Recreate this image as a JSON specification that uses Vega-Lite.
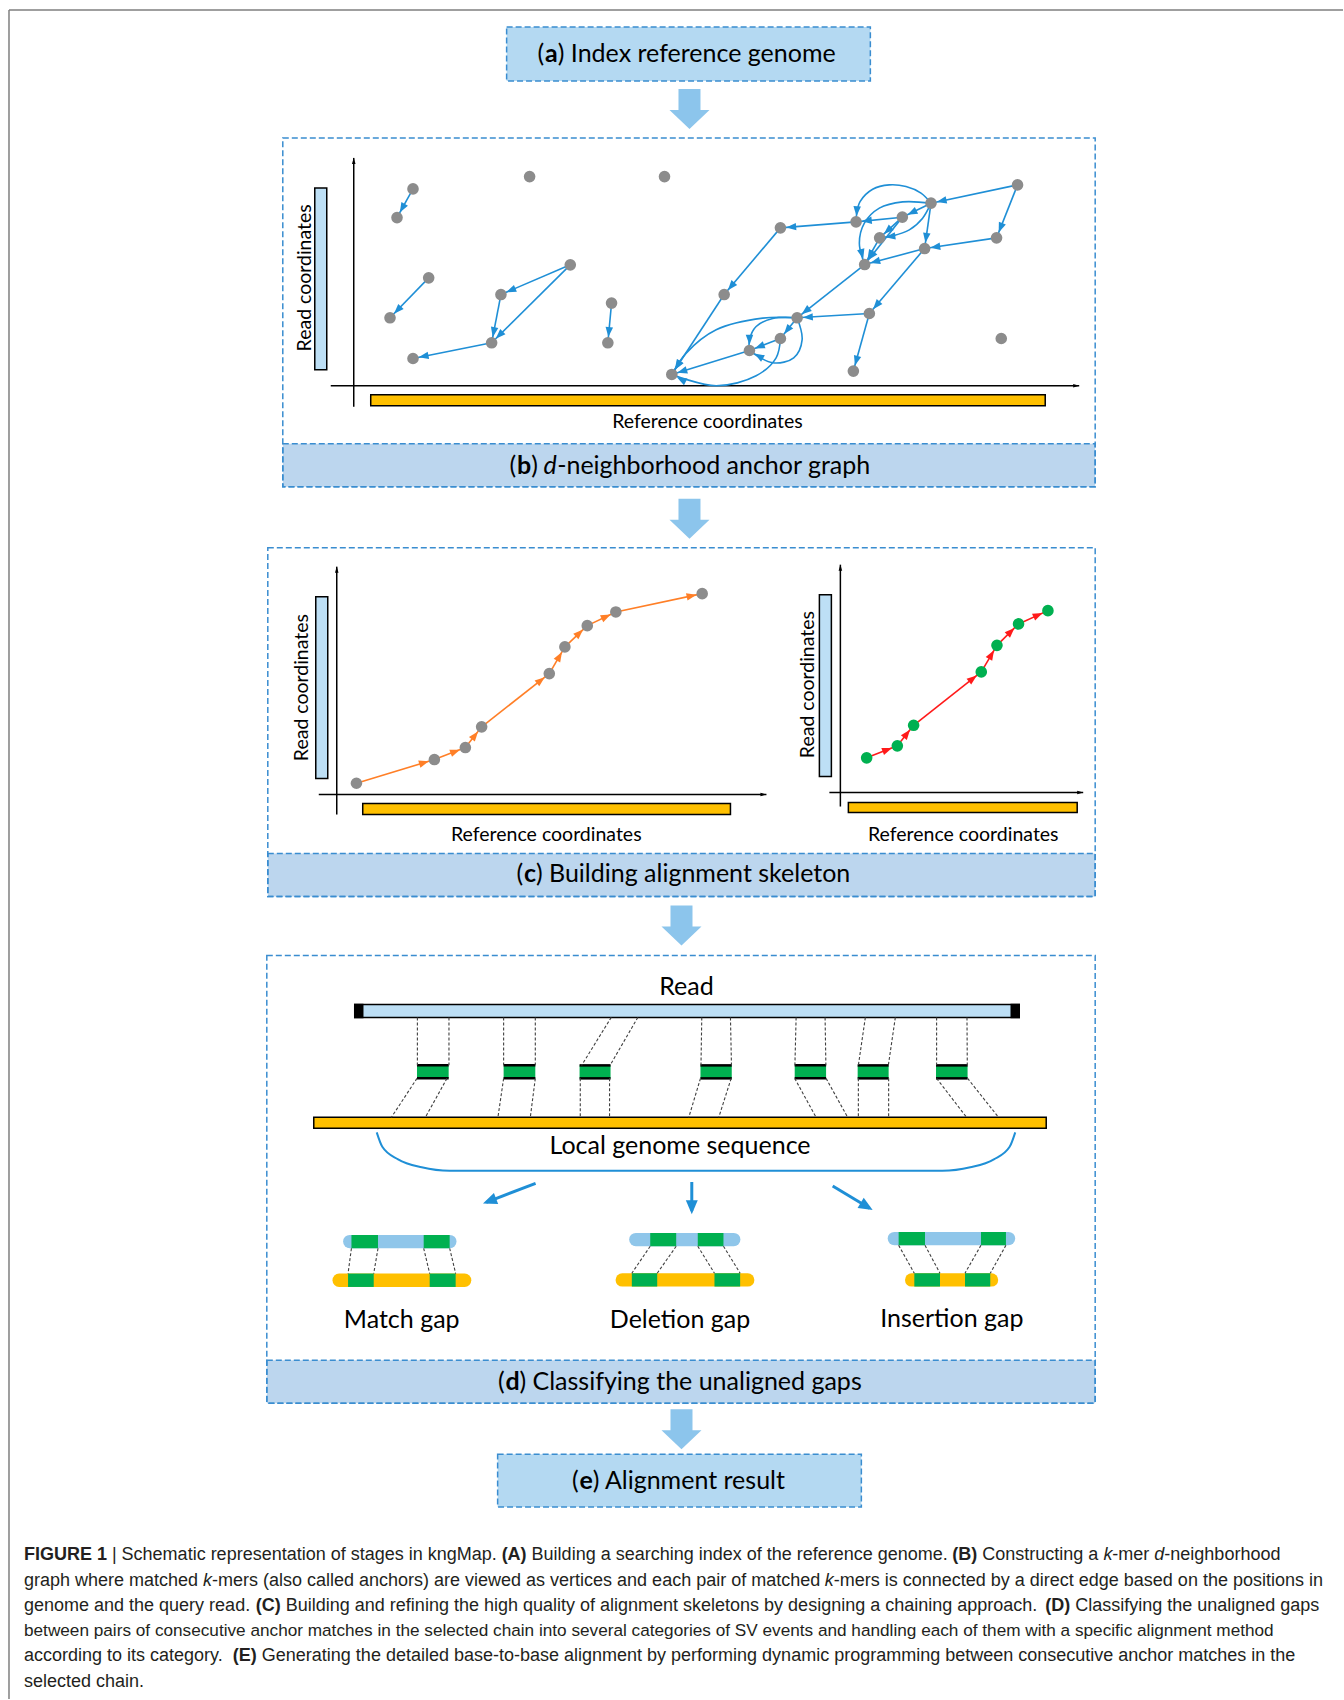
{
"$schema": "https://vega.github.io/schema/vega-lite/v6.json",
"width": 1344, "height": 1700,
"autosize": {"type": "fit", "contains": "padding"},
"padding": 0,
"background": "#ffffff",
"config": {"view": {"stroke": null}},
"datasets": {
"frame": [{"x":9,"y":10,"x2":1344,"y2":10},{"x":9,"y":10,"x2":9,"y2":1700}],
"boxesAE": [{"x":507,"x2":871,"y":27,"y2":81},{"x":498,"x2":862,"y":1455,"y2":1508}],
"panels": [{"x":283,"x2":1096,"y":138,"y2":487},{"x":268,"x2":1096,"y":548,"y2":897},{"x":267,"x2":1096,"y":956,"y2":1404}],
"bands": [{"x":283,"x2":1096,"y":444,"y2":487},{"x":268,"x2":1096,"y":854,"y2":897},{"x":267,"x2":1096,"y":1361,"y2":1404}],
"bigarrows": [{"x":690,"y":109},{"x":690,"y":519},{"x":682,"y":926},{"x":682,"y":1430}],
"axes": [{"x":354,"y":407,"x2":354,"y2":158},{"x":331,"y":386,"x2":1080,"y2":386},{"x":337,"y":815,"x2":337,"y2":567},{"x":319,"y":795,"x2":767,"y2":795},{"x":841,"y":807,"x2":841,"y2":565},{"x":830,"y":793,"x2":1084,"y2":793}],
"bars": [{"x":315,"x2":327,"y":188,"y2":370,"k":"read"},{"x":371,"x2":1046,"y":395,"y2":406,"k":"ref"},{"x":316,"x2":328,"y":597,"y2":779,"k":"read"},{"x":363,"x2":731,"y":804,"y2":815,"k":"ref"},{"x":820,"x2":832,"y":595,"y2":777,"k":"read"},{"x":849,"x2":1078,"y":803,"y2":813,"k":"ref"},{"x":355,"x2":1020,"y":1005,"y2":1018,"k":"read"},{"x":314,"x2":1047,"y":1118,"y2":1129,"k":"ref"},{"x":355,"x2":363,"y":1005,"y2":1018,"k":"cap"},{"x":1012,"x2":1020,"y":1005,"y2":1018,"k":"cap"}],
"curves": [
{"e":"c1","o":1,"x":931.7,"y":203.3},{"e":"c1","o":2,"x":921.7,"y":193.3},{"e":"c1","o":3,"x":906.7,"y":186.7},{"e":"c1","o":4,"x":890,"y":185},{"e":"c1","o":5,"x":873.3,"y":189.3},{"e":"c1","o":6,"x":860.7,"y":201.7},{"e":"c1","o":7,"x":857.3,"y":214},{"e":"c1","o":8,"x":856.7,"y":222},
{"e":"c2","o":1,"x":931.7,"y":203.3},{"e":"c2","o":2,"x":903.3,"y":202},{"e":"c2","o":3,"x":880,"y":208.3},{"e":"c2","o":4,"x":865,"y":223.3},{"e":"c2","o":5,"x":860,"y":243.3},{"e":"c2","o":6,"x":865.3,"y":264.7},
{"e":"c3","o":1,"x":931.7,"y":203.3},{"e":"c3","o":2,"x":923.3,"y":218.3},{"e":"c3","o":3,"x":910,"y":230},{"e":"c3","o":4,"x":893.3,"y":236},{"e":"c3","o":5,"x":880.3,"y":238},
{"e":"c4","o":1,"x":797.7,"y":318},{"e":"c4","o":2,"x":763.3,"y":318.3},{"e":"c4","o":3,"x":716.7,"y":330},{"e":"c4","o":4,"x":686.7,"y":353.3},{"e":"c4","o":5,"x":672.3,"y":374.7},
{"e":"c5","o":1,"x":797.7,"y":318},{"e":"c5","o":2,"x":773.3,"y":318.7},{"e":"c5","o":3,"x":756.7,"y":326.7},{"e":"c5","o":4,"x":750,"y":340},{"e":"c5","o":5,"x":750,"y":350.7},
{"e":"c6","o":1,"x":781,"y":338.7},{"e":"c6","o":2,"x":776.7,"y":358},{"e":"c6","o":3,"x":756.7,"y":376},{"e":"c6","o":4,"x":716.7,"y":386},{"e":"c6","o":5,"x":672.3,"y":374.7},
{"e":"c7","o":1,"x":797.7,"y":318},{"e":"c7","o":2,"x":802.7,"y":340},{"e":"c7","o":3,"x":794.3,"y":358},{"e":"c7","o":4,"x":773.3,"y":363},{"e":"c7","o":5,"x":750,"y":350.7}
],
"edges": [
{"x":413.3,"y":189,"x2":397.3,"y2":217.7,"k":"b"},
{"x":429,"y":278,"x2":390.3,"y2":318,"k":"b"},
{"x":570.7,"y":265,"x2":501.3,"y2":294.7,"k":"b"},
{"x":570.7,"y":265,"x2":492,"y2":343,"k":"b"},
{"x":501.3,"y":294.7,"x2":492,"y2":343,"k":"b"},
{"x":492,"y":343,"x2":413.3,"y2":358.7,"k":"b"},
{"x":612,"y":303.3,"x2":608.3,"y2":343,"k":"b"},
{"x":1018.3,"y":185,"x2":931.7,"y2":203.3,"k":"b"},
{"x":1018.3,"y":185,"x2":997.3,"y2":238,"k":"b"},
{"x":997.3,"y":238,"x2":925.3,"y2":248.7,"k":"b"},
{"x":931.7,"y":203.3,"x2":903,"y2":217.3,"k":"b"},
{"x":931.7,"y":203.3,"x2":925.3,"y2":248.7,"k":"b"},
{"x":903,"y":217.3,"x2":856.7,"y2":222,"k":"b"},
{"x":903,"y":217.3,"x2":880.3,"y2":238,"k":"b"},
{"x":903,"y":217.3,"x2":865.3,"y2":264.7,"k":"b"},
{"x":880.3,"y":238,"x2":865.3,"y2":264.7,"k":"b"},
{"x":856.7,"y":222,"x2":781,"y2":228,"k":"b"},
{"x":925.3,"y":248.7,"x2":865.3,"y2":264.7,"k":"b"},
{"x":925.3,"y":248.7,"x2":870,"y2":313.7,"k":"b"},
{"x":781,"y":228,"x2":724.7,"y2":294.7,"k":"b"},
{"x":724.7,"y":294.7,"x2":672.3,"y2":374.7,"k":"b"},
{"x":865.3,"y":264.7,"x2":797.7,"y2":318,"k":"b"},
{"x":870,"y":313.7,"x2":797.7,"y2":318,"k":"b"},
{"x":870,"y":313.7,"x2":854,"y2":371.3,"k":"b"},
{"x":797.7,"y":318,"x2":781,"y2":338.7,"k":"b"},
{"x":781,"y":338.7,"x2":750,"y2":350.7,"k":"b"},
{"x":750,"y":350.7,"x2":672.3,"y2":374.7,"k":"b"},
{"x":857.5,"y":211,"x2":856.7,"y2":222,"k":"bc"},
{"x":861,"y":248,"x2":865.3,"y2":264.7,"k":"bc"},
{"x":892,"y":236.5,"x2":880.3,"y2":238,"k":"bc"},
{"x":682,"y":359,"x2":672.3,"y2":374.7,"k":"bc"},
{"x":750,"y":340,"x2":750,"y2":350.7,"k":"bc"},
{"x":688,"y":383,"x2":672.3,"y2":374.7,"k":"bc"},
{"x":764,"y":359,"x2":750,"y2":350.7,"k":"bc"},
{"x":356.7,"y":783.7,"x2":434.7,"y2":760,"k":"o"},
{"x":434.7,"y":760,"x2":465.7,"y2":748,"k":"o"},
{"x":465.7,"y":748,"x2":482,"y2":727.3,"k":"o"},
{"x":482,"y":727.3,"x2":549.7,"y2":674,"k":"o"},
{"x":549.7,"y":674,"x2":565.3,"y2":647.3,"k":"o"},
{"x":565.3,"y":647.3,"x2":587.7,"y2":626,"k":"o"},
{"x":587.7,"y":626,"x2":616.3,"y2":612.3,"k":"o"},
{"x":616.3,"y":612.3,"x2":702.7,"y2":594,"k":"o"},
{"x":867.3,"y":758.3,"x2":898,"y2":746.3,"k":"r"},
{"x":898,"y":746.3,"x2":914.3,"y2":725.7,"k":"r"},
{"x":914.3,"y":725.7,"x2":982,"y2":672.3,"k":"r"},
{"x":982,"y":672.3,"x2":997.7,"y2":645.7,"k":"r"},
{"x":997.7,"y":645.7,"x2":1019.3,"y2":624.3,"k":"r"},
{"x":1019.3,"y":624.3,"x2":1048.7,"y2":611,"k":"r"}
],
"dots": [
{"x":413.3,"y":189,"k":"g"},{"x":397.3,"y":217.7,"k":"g"},{"x":530,"y":176.7,"k":"g"},{"x":665,"y":176.7,"k":"g"},{"x":429,"y":278,"k":"g"},{"x":390.3,"y":318,"k":"g"},{"x":570.7,"y":265,"k":"g"},{"x":501.3,"y":294.7,"k":"g"},{"x":492,"y":343,"k":"g"},{"x":413.3,"y":358.7,"k":"g"},{"x":612,"y":303.3,"k":"g"},{"x":608.3,"y":343,"k":"g"},{"x":672.3,"y":374.7,"k":"g"},
{"x":1018.3,"y":185,"k":"g"},{"x":931.7,"y":203.3,"k":"g"},{"x":903,"y":217.3,"k":"g"},{"x":856.7,"y":222,"k":"g"},{"x":781,"y":228,"k":"g"},{"x":880.3,"y":238,"k":"g"},{"x":997.3,"y":238,"k":"g"},{"x":925.3,"y":248.7,"k":"g"},{"x":865.3,"y":264.7,"k":"g"},{"x":724.7,"y":294.7,"k":"g"},{"x":870,"y":313.7,"k":"g"},{"x":797.7,"y":318,"k":"g"},{"x":781,"y":338.7,"k":"g"},{"x":750,"y":350.7,"k":"g"},{"x":1002,"y":338.7,"k":"g"},{"x":854,"y":371.3,"k":"g"},
{"x":356.7,"y":783.7,"k":"g"},{"x":434.7,"y":760,"k":"g"},{"x":465.7,"y":748,"k":"g"},{"x":482,"y":727.3,"k":"g"},{"x":549.7,"y":674,"k":"g"},{"x":565.3,"y":647.3,"k":"g"},{"x":587.7,"y":626,"k":"g"},{"x":616.3,"y":612.3,"k":"g"},{"x":702.7,"y":594,"k":"g"},
{"x":867.3,"y":758.3,"k":"n"},{"x":898,"y":746.3,"k":"n"},{"x":914.3,"y":725.7,"k":"n"},{"x":982,"y":672.3,"k":"n"},{"x":997.7,"y":645.7,"k":"n"},{"x":1019.3,"y":624.3,"k":"n"},{"x":1048.7,"y":611,"k":"n"}
],
"blocks": [{"x":417.3,"x2":449,"y":1066,"y2":1079},{"x":504,"x2":535.7,"y":1066,"y2":1079},{"x":580,"x2":611,"y":1066,"y2":1079},{"x":701,"x2":732.3,"y":1066,"y2":1079},{"x":795.3,"x2":826.7,"y":1066,"y2":1079},{"x":858.3,"x2":889.3,"y":1066,"y2":1079},{"x":936.7,"x2":968.3,"y":1066,"y2":1079}],
"dashes": [
{"x":417.7,"y":1018,"x2":417.7,"y2":1066},{"x":449.3,"y":1018,"x2":449.3,"y2":1066},
{"x":504,"y":1018,"x2":504,"y2":1066},{"x":535.7,"y":1018,"x2":535.7,"y2":1066},
{"x":611.7,"y":1018,"x2":582,"y2":1066},{"x":638.3,"y":1018,"x2":610.5,"y2":1066},
{"x":702.3,"y":1018,"x2":701.5,"y2":1066},{"x":731,"y":1018,"x2":732,"y2":1066},
{"x":796.7,"y":1018,"x2":795.5,"y2":1066},{"x":825.7,"y":1018,"x2":826.5,"y2":1066},
{"x":866,"y":1018,"x2":859,"y2":1066},{"x":896,"y":1018,"x2":889,"y2":1066},
{"x":937.3,"y":1018,"x2":937.3,"y2":1066},{"x":967.7,"y":1018,"x2":968,"y2":1066},
{"x":417.3,"y":1079,"x2":391.7,"y2":1118},{"x":447.3,"y":1079,"x2":425.7,"y2":1118},
{"x":504,"y":1079,"x2":498.3,"y2":1118},{"x":535.7,"y":1079,"x2":530.7,"y2":1118},
{"x":580.7,"y":1079,"x2":580.7,"y2":1118},{"x":610,"y":1079,"x2":610,"y2":1118},
{"x":701,"y":1079,"x2":689.3,"y2":1118},{"x":731.7,"y":1079,"x2":719.3,"y2":1118},
{"x":795.3,"y":1079,"x2":816.7,"y2":1118},{"x":826.7,"y":1079,"x2":848.3,"y2":1118},
{"x":859,"y":1079,"x2":859,"y2":1118},{"x":889.3,"y":1079,"x2":889.3,"y2":1118},
{"x":937.3,"y":1079,"x2":967.3,"y2":1118},{"x":968.3,"y":1079,"x2":999.3,"y2":1118},
{"x":351.7,"y":1249,"x2":348.3,"y2":1274.3},{"x":378.3,"y":1249,"x2":374,"y2":1274.3},{"x":424,"y":1249,"x2":430,"y2":1274.3},{"x":450,"y":1249,"x2":456,"y2":1274.3},
{"x":650.7,"y":1247,"x2":632.3,"y2":1274},{"x":676.7,"y":1247,"x2":657.7,"y2":1274},{"x":698.3,"y":1247,"x2":715,"y2":1274},{"x":724,"y":1247,"x2":740.7,"y2":1274},
{"x":899.3,"y":1246,"x2":915,"y2":1274},{"x":925.7,"y":1246,"x2":940.7,"y2":1274},{"x":981.7,"y":1246,"x2":965.7,"y2":1274},{"x":1006.7,"y":1246,"x2":991,"y2":1274}
],
"brace": [{"x":377,"y":1133},{"x":382.6,"y":1147.5},{"x":398.4,"y":1160},{"x":422,"y":1168},{"x":450,"y":1171.5},{"x":943,"y":1171.5},{"x":971,"y":1168},{"x":994.6,"y":1160},{"x":1010.4,"y":1147.5},{"x":1016,"y":1133}],
"darrows": [{"x":536,"y":1184,"x2":486.6,"y2":1203},{"x":692.3,"y":1182.7,"x2":692.3,"y2":1211.5},{"x":833.3,"y":1186.7,"x2":870.3,"y2":1209}],
"gapbars": [{"x":350,"x2":450.2,"y":1242.3,"k":"gr"},{"x":339.4,"x2":465,"y":1281,"k":"gy"},{"x":636.3,"x2":734.3,"y":1240.3,"k":"gr"},{"x":622.7,"x2":748.3,"y":1280.7,"k":"gy"},{"x":895,"x2":1009.3,"y":1239.3,"k":"gr"},{"x":912.3,"x2":992.3,"y":1280.7,"k":"gy"}],
"gapgreens": [
{"x":351.7,"x2":378.3,"y":1235.7,"y2":1249},{"x":424,"x2":450,"y":1235.7,"y2":1249},{"x":348.3,"x2":374,"y":1274.3,"y2":1287.7},{"x":430,"x2":456,"y":1274.3,"y2":1287.7},
{"x":650.7,"x2":676.7,"y":1233.7,"y2":1247},{"x":698.3,"x2":724,"y":1233.7,"y2":1247},{"x":632.3,"x2":657.7,"y":1274,"y2":1287.3},{"x":715,"x2":740.7,"y":1274,"y2":1287.3},
{"x":899.3,"x2":925.7,"y":1232.7,"y2":1246},{"x":981.7,"x2":1006.7,"y":1232.7,"y2":1246},{"x":915,"x2":940.7,"y":1274,"y2":1287.3},{"x":965.7,"x2":991,"y":1274,"y2":1287.3}
],
"titles": [
{"x":538,"y":54,"t":"(","s":"r"},{"x":545.5,"y":54,"t":"a","s":"b"},{"x":558.2,"y":54,"t":") Index reference genome","s":"r"},
{"x":510,"y":466,"t":"(","s":"r"},{"x":517.5,"y":466,"t":"b","s":"b"},{"x":531.7,"y":466,"t":")","s":"r"},{"x":543.8,"y":466,"t":"d","s":"i"},{"x":557.6,"y":466,"t":"-neighborhood anchor graph","s":"r"},
{"x":517,"y":875,"t":"(","s":"r"},{"x":524.5,"y":875,"t":"c","s":"b"},{"x":536.3,"y":875,"t":") Building alignment skeleton","s":"r"},
{"x":498.3,"y":1383,"t":"(","s":"r"},{"x":505.8,"y":1383,"t":"d","s":"b"},{"x":519.8,"y":1383,"t":") Classifying the unaligned gaps","s":"r"},
{"x":572.4,"y":1482,"t":"(","s":"r"},{"x":579.9,"y":1482,"t":"e","s":"b"},{"x":593.1,"y":1482,"t":") Alignment result","s":"r"}
],
"labels": [{"x":687,"y":988,"t":"Read"},{"x":680.5,"y":1146.5,"t":"Local genome sequence"},{"x":402,"y":1321,"t":"Match gap"},{"x":680.5,"y":1321,"t":"Deletion gap"},{"x":952.5,"y":1320,"t":"Insertion gap"}],
"axlabels": [{"x":708,"y":422,"t":"Reference coordinates","s":"h"},{"x":546.7,"y":835,"t":"Reference coordinates","s":"h"},{"x":964,"y":835,"t":"Reference coordinates","s":"h"},{"x":305,"y":278,"t":"Read coordinates","s":"v"},{"x":302.7,"y":688,"t":"Read coordinates","s":"v"},{"x":808.3,"y":685,"t":"Read coordinates","s":"v"}],
"caption": [
{"x":24,"y":1556,"t":"FIGURE 1","s":"b"},{"x":112,"y":1556,"t":"| Schematic representation of stages in kngMap.","s":"r"},{"x":502,"y":1556,"t":"(A)","s":"b"},{"x":532,"y":1556,"t":"Building a searching index of the reference genome.","s":"r"},{"x":953,"y":1556,"t":"(B)","s":"b"},{"x":983,"y":1556,"t":"Constructing a","s":"r"},{"x":1104.2,"y":1556,"t":"k","s":"i"},{"x":1113.2,"y":1556,"t":"-mer","s":"r"},{"x":1155.2,"y":1556,"t":"d","s":"i"},{"x":1165.2,"y":1556,"t":"-neighborhood","s":"r"},
{"x":24,"y":1581.5,"t":"graph where matched","s":"r"},{"x":203.1,"y":1581.5,"t":"k","s":"i"},{"x":212.1,"y":1581.5,"t":"-mers (also called anchors) are viewed as vertices and each pair of matched","s":"r"},{"x":825.3,"y":1581.5,"t":"k","s":"i"},{"x":834.3,"y":1581.5,"t":"-mers is connected by a direct edge based on the positions in","s":"r"},
{"x":24,"y":1607,"t":"genome and the query read.","s":"r"},{"x":256,"y":1607,"t":"(C)","s":"b"},{"x":286,"y":1607,"t":"Building and refining the high quality of alignment skeletons by designing a chaining approach.","s":"r"},{"x":1046,"y":1607,"t":"(D)","s":"b"},{"x":1076,"y":1607,"t":"Classifying the unaligned gaps","s":"r"},
{"x":24,"y":1632,"t":"between pairs of consecutive anchor matches in the selected chain into several categories of SV events and handling each of them with a specific alignment method","s":"n"},
{"x":24,"y":1657,"t":"according to its category.","s":"r"},{"x":233,"y":1657,"t":"(E)","s":"b"},{"x":262,"y":1657,"t":"Generating the detailed base-to-base alignment by performing dynamic programming between consecutive anchor matches in the","s":"r"},
{"x":24,"y":1683,"t":"selected chain.","s":"r"}
]
},
"encoding": {
"x": {"field": "x", "type": "quantitative", "scale": {"domain": [0, 1344], "nice": false, "zero": false}, "axis": null},
"y": {"field": "y", "type": "quantitative", "scale": {"domain": [0, 1700], "nice": false, "zero": false, "reverse": true}, "axis": null}
},
"layer": [
{"data": {"name": "frame"}, "mark": {"type": "rule", "stroke": "#7f7f7f", "strokeWidth": 1.5}, "encoding": {"x2": {"field": "x2"}, "y2": {"field": "y2"}}},
{"data": {"name": "boxesAE"}, "mark": {"type": "rect", "fill": "#b4d9f2", "stroke": "#3a8dd0", "strokeWidth": 1.5, "strokeDash": [6, 3]}, "encoding": {"x2": {"field": "x2"}, "y2": {"field": "y2"}}},
{"data": {"name": "bands"}, "mark": {"type": "rect", "fill": "#bcd6ee", "stroke": "#3a8dd0", "strokeWidth": 1.5, "strokeDash": [6, 3]}, "encoding": {"x2": {"field": "x2"}, "y2": {"field": "y2"}}},
{"data": {"name": "panels"}, "mark": {"type": "rect", "fill": "#ffffff", "fillOpacity": 0, "stroke": "#3a8dd0", "strokeWidth": 1.5, "strokeDash": [6, 3]}, "encoding": {"x2": {"field": "x2"}, "y2": {"field": "y2"}}},
{"data": {"name": "bigarrows"}, "mark": {"type": "point", "shape": "M-0.55,-1L0.55,-1L0.55,0.05L1,0.05L0,1L-1,0.05L-0.55,0.05Z", "size": 1600, "filled": true, "fill": "#8cc5ec", "opacity": 1, "strokeWidth": 0}},
{"data": {"name": "bars"}, "mark": {"type": "rect", "stroke": "#000000", "strokeWidth": 1.5}, "encoding": {"x2": {"field": "x2"}, "y2": {"field": "y2"}, "color": {"field": "k", "type": "nominal", "scale": {"domain": ["b","bc","o","r","g","n","gr","gy","read","ref","cap"], "range": ["#1f8fd6","#1f8fd6","#ff7f27","#ff1a1a","#8c8c8c","#00b050","#8fc6ea","#ffc000","#bddff5","#ffc000","#000000"]}, "legend": null}}},
{"data": {"name": "axes"}, "mark": {"type": "rule", "stroke": "#000000", "strokeWidth": 1.5}, "encoding": {"x2": {"field": "x2"}, "y2": {"field": "y2"}}},
{"data": {"name": "axes"}, "transform": [{"calculate": "atan2(datum.x2 - datum.x, datum.y - datum.y2) * 180 / PI", "as": "ang"}], "mark": {"type": "point", "shape": "M0,0L0.9,3L-0.9,3Z", "size": 16, "filled": true, "fill": "#000000", "opacity": 1, "strokeWidth": 0},
 "encoding": {"x": {"field": "x2", "type": "quantitative", "scale": {"domain": [0, 1344], "nice": false, "zero": false}, "axis": null}, "y": {"field": "y2", "type": "quantitative", "scale": {"domain": [0, 1700], "nice": false, "zero": false, "reverse": true}, "axis": null}, "angle": {"field": "ang", "type": "quantitative", "scale": null}}},
{"data": {"name": "curves"}, "mark": {"type": "line", "interpolate": "catmull-rom", "stroke": "#1f8fd6", "strokeWidth": 1.6}, "encoding": {"detail": {"field": "e"}, "order": {"field": "o", "type": "quantitative"}}},
{"data": {"name": "edges"}, "transform": [{"filter": "datum.k != 'bc'"}], "mark": {"type": "rule", "strokeWidth": 1.6}, "encoding": {"x2": {"field": "x2"}, "y2": {"field": "y2"}, "color": {"field": "k", "type": "nominal", "scale": {"domain": ["b","bc","o","r","g","n","gr","gy","read","ref","cap"], "range": ["#1f8fd6","#1f8fd6","#ff7f27","#ff1a1a","#8c8c8c","#00b050","#8fc6ea","#ffc000","#bddff5","#ffc000","#000000"]}, "legend": null}}},
{"data": {"name": "dots"}, "mark": {"type": "point", "shape": "circle", "size": 135, "filled": true, "opacity": 1, "strokeWidth": 0}, "encoding": {"color": {"field": "k", "type": "nominal", "scale": {"domain": ["b","bc","o","r","g","n","gr","gy","read","ref","cap"], "range": ["#1f8fd6","#1f8fd6","#ff7f27","#ff1a1a","#8c8c8c","#00b050","#8fc6ea","#ffc000","#bddff5","#ffc000","#000000"]}, "legend": null}}},
{"data": {"name": "edges"}, "transform": [{"calculate": "atan2(datum.x2 - datum.x, datum.y - datum.y2) * 180 / PI", "as": "ang"}], "mark": {"type": "point", "shape": "M0,2.3L1.5,6.3L-1.5,6.3Z", "size": 25, "filled": true, "opacity": 1, "strokeWidth": 0},
 "encoding": {"x": {"field": "x2", "type": "quantitative", "scale": {"domain": [0, 1344], "nice": false, "zero": false}, "axis": null}, "y": {"field": "y2", "type": "quantitative", "scale": {"domain": [0, 1700], "nice": false, "zero": false, "reverse": true}, "axis": null}, "angle": {"field": "ang", "type": "quantitative", "scale": null}, "color": {"field": "k", "type": "nominal", "scale": {"domain": ["b","bc","o","r","g","n","gr","gy","read","ref","cap"], "range": ["#1f8fd6","#1f8fd6","#ff7f27","#ff1a1a","#8c8c8c","#00b050","#8fc6ea","#ffc000","#bddff5","#ffc000","#000000"]}, "legend": null}}},
{"data": {"name": "blocks"}, "mark": {"type": "rect", "fill": "#00b050"}, "encoding": {"x2": {"field": "x2"}, "y2": {"field": "y2"}}},
{"data": {"name": "blocks"}, "mark": {"type": "rule", "stroke": "#000000", "strokeWidth": 2.5}, "encoding": {"x2": {"field": "x2"}}},
{"data": {"name": "blocks"}, "mark": {"type": "rule", "stroke": "#000000", "strokeWidth": 2.5}, "encoding": {"y": {"field": "y2", "type": "quantitative", "scale": {"domain": [0, 1700], "nice": false, "zero": false, "reverse": true}, "axis": null}, "x2": {"field": "x2"}}},
{"data": {"name": "gapbars"}, "mark": {"type": "rule", "strokeWidth": 13.3, "strokeCap": "round"}, "encoding": {"x2": {"field": "x2"}, "color": {"field": "k", "type": "nominal", "scale": {"domain": ["b","bc","o","r","g","n","gr","gy","read","ref","cap"], "range": ["#1f8fd6","#1f8fd6","#ff7f27","#ff1a1a","#8c8c8c","#00b050","#8fc6ea","#ffc000","#bddff5","#ffc000","#000000"]}, "legend": null}}},
{"data": {"name": "gapgreens"}, "mark": {"type": "rect", "fill": "#00b050"}, "encoding": {"x2": {"field": "x2"}, "y2": {"field": "y2"}}},
{"data": {"name": "dashes"}, "mark": {"type": "rule", "stroke": "#404040", "strokeWidth": 1.1, "strokeDash": [3, 2]}, "encoding": {"x2": {"field": "x2"}, "y2": {"field": "y2"}}},
{"data": {"name": "brace"}, "mark": {"type": "line", "interpolate": "monotone", "stroke": "#1f8fd6", "strokeWidth": 2}, "encoding": {}},
{"data": {"name": "darrows"}, "mark": {"type": "rule", "stroke": "#1f8fd6", "strokeWidth": 3}, "encoding": {"x2": {"field": "x2"}, "y2": {"field": "y2"}}},
{"data": {"name": "darrows"}, "transform": [{"calculate": "atan2(datum.x2 - datum.x, datum.y - datum.y2) * 180 / PI", "as": "ang"}], "mark": {"type": "point", "shape": "M0,-1L1.7,3L-1.7,3Z", "size": 49, "filled": true, "fill": "#1f8fd6", "opacity": 1, "strokeWidth": 0},
 "encoding": {"x": {"field": "x2", "type": "quantitative", "scale": {"domain": [0, 1344], "nice": false, "zero": false}, "axis": null}, "y": {"field": "y2", "type": "quantitative", "scale": {"domain": [0, 1700], "nice": false, "zero": false, "reverse": true}, "axis": null}, "angle": {"field": "ang", "type": "quantitative", "scale": null}}},
{"data": {"name": "titles"}, "transform": [{"filter": "datum.s == 'r'"}], "mark": {"type": "text", "font": "Lato", "fontSize": 25, "align": "left", "baseline": "middle", "fill": "#000000"}, "encoding": {"text": {"field": "t", "type": "nominal"}}},
{"data": {"name": "titles"}, "transform": [{"filter": "datum.s == 'b'"}], "mark": {"type": "text", "font": "Lato", "fontSize": 25, "fontWeight": "bold", "align": "left", "baseline": "middle", "fill": "#000000"}, "encoding": {"text": {"field": "t", "type": "nominal"}}},
{"data": {"name": "titles"}, "transform": [{"filter": "datum.s == 'i'"}], "mark": {"type": "text", "font": "Lato", "fontSize": 25, "fontStyle": "italic", "align": "left", "baseline": "middle", "fill": "#000000"}, "encoding": {"text": {"field": "t", "type": "nominal"}}},
{"data": {"name": "labels"}, "mark": {"type": "text", "font": "Lato", "fontSize": 25, "align": "center", "baseline": "middle", "fill": "#000000"}, "encoding": {"text": {"field": "t", "type": "nominal"}}},
{"data": {"name": "axlabels"}, "transform": [{"filter": "datum.s == 'h'"}], "mark": {"type": "text", "font": "Lato", "fontSize": 19.5, "align": "center", "baseline": "middle", "fill": "#000000"}, "encoding": {"text": {"field": "t", "type": "nominal"}}},
{"data": {"name": "axlabels"}, "transform": [{"filter": "datum.s == 'v'"}], "mark": {"type": "text", "font": "Lato", "fontSize": 19.5, "angle": 270, "align": "center", "baseline": "middle", "fill": "#000000"}, "encoding": {"text": {"field": "t", "type": "nominal"}}},
{"data": {"name": "caption"}, "transform": [{"filter": "datum.s == 'r'"}], "mark": {"type": "text", "font": "Liberation Sans", "fontSize": 18, "align": "left", "baseline": "middle", "fill": "#231f20"}, "encoding": {"text": {"field": "t", "type": "nominal"}}},
{"data": {"name": "caption"}, "transform": [{"filter": "datum.s == 'b'"}], "mark": {"type": "text", "font": "Liberation Sans", "fontSize": 18, "fontWeight": "bold", "align": "left", "baseline": "middle", "fill": "#231f20"}, "encoding": {"text": {"field": "t", "type": "nominal"}}},
{"data": {"name": "caption"}, "transform": [{"filter": "datum.s == 'i'"}], "mark": {"type": "text", "font": "Liberation Sans", "fontSize": 18, "fontStyle": "italic", "align": "left", "baseline": "middle", "fill": "#231f20"}, "encoding": {"text": {"field": "t", "type": "nominal"}}},
{"data": {"name": "caption"}, "transform": [{"filter": "datum.s == 'n'"}], "mark": {"type": "text", "font": "Liberation Sans", "fontSize": 17.2, "align": "left", "baseline": "middle", "fill": "#231f20"}, "encoding": {"text": {"field": "t", "type": "nominal"}}}
]
}
